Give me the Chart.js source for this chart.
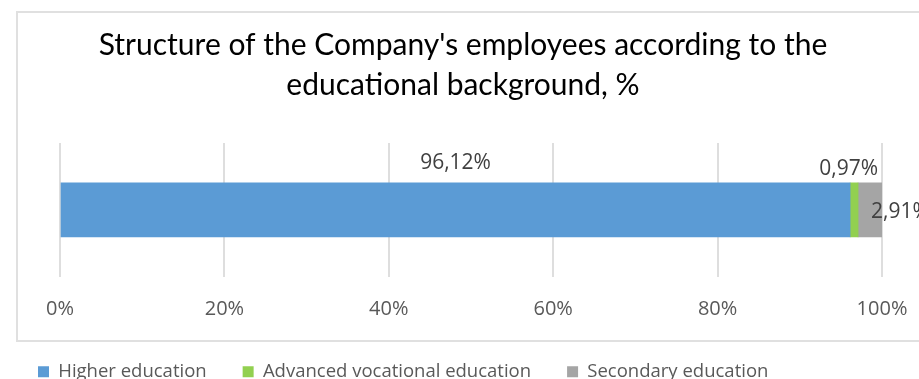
<!DOCTYPE html>
<html>
<head>
<meta charset="utf-8">
<title>Education structure</title>
<script src="https://cdn.jsdelivr.net/npm/chart.js@4.4.1/dist/chart.umd.min.js"></script>
<style>
  html, body { margin: 0; padding: 0; background: #fff; overflow: hidden; }
  #wrap { position: relative; width: 919px; height: 379px; overflow: hidden; }
  #frame { position: absolute; left: 16px; top: 11px; width: 920px; height: 327px; border: 2px solid #e0e0e0; box-sizing: content-box; }
  #barChart { position: absolute; left: 0; top: 0; }
</style>
</head>
<body>
<div id="wrap">
  <div id="frame"></div>
  <canvas id="barChart" width="930" height="391"></canvas>
</div>
<script>
// one row, three education groups stacked to 100%
var categories = ["Employees"];
var seriesNames = ["Higher education", "Advanced vocational education", "Secondary education"];
var higherEdu = [96.12];
var vocationalEdu = [0.97];
var secondaryEdu = [2.91];
var xTicks = [0, 20, 40, 60, 80, 100];

var seriesColors = ["#5b9bd5", "#92d050", "#a5a5a5"];

function pct(v) {
  return v.toFixed(2).replace(".", ",") + "%";
}

// label placement per series: "top" = above the bar, "mid" = bar middle;
// x taken from the segment center or its right end
var labelSpots = [
  { x: "center", y: "top", align: "center", dx: 0, dy: -20 },
  { x: "end", y: "top", align: "right", dx: 20, dy: -14 },
  { x: "center", y: "mid", align: "left", dx: 1, dy: 2 }
];

var valueLabels = {
  id: "valueLabels",
  afterDatasetsDraw: function(chart) {
    var ctx = chart.ctx;
    ctx.save();
    ctx.font = "21px 'Open Sans'";
    ctx.fillStyle = "#404040";
    ctx.textBaseline = "middle";
    chart.data.datasets.forEach(function(ds, i) {
      var meta = chart.getDatasetMeta(i);
      meta.data.forEach(function(bar, j) {
        var spot = labelSpots[i];
        var left = Math.min(bar.base, bar.x), right = Math.max(bar.base, bar.x);
        var x = spot.x == "center" ? (left + right) / 2 : right;
        var y = spot.y == "mid" ? bar.y : bar.y - bar.height / 2;
        ctx.textAlign = spot.align;
        ctx.fillText(pct(ds.data[j]), x + spot.dx, y + spot.dy);
      });
    });
    ctx.restore();
  }
};

// the legend is drawn a little soft
var softLegend = {
  id: "softLegend",
  beforeDraw: function(chart) {
    var lg = chart.legend;
    if (!lg || lg._soft) return;
    var draw = lg.draw;
    lg.draw = function() {
      var ctx = this.ctx;
      ctx.save();
      ctx.filter = "blur(0.7px)";
      draw.apply(this, arguments);
      ctx.restore();
    };
    lg._soft = true;
  }
};

var data = {
  labels: categories,
  datasets: [
    { label: seriesNames[0], data: higherEdu, backgroundColor: seriesColors[0] },
    { label: seriesNames[1], data: vocationalEdu, backgroundColor: seriesColors[1] },
    { label: seriesNames[2], data: secondaryEdu, backgroundColor: seriesColors[2] }
  ]
};

var chart = new Chart(document.getElementById("barChart"), {
  type: "bar",
  data: data,
  plugins: [valueLabels, softLegend],
  options: {
    indexAxis: "y",
    responsive: false,
    animation: false,
    layout: { padding: { left: 2, right: 6, top: 0, bottom: 0 } },
    datasets: { bar: { barThickness: 54, borderWidth: 0 } },
    scales: {
      x: {
        stacked: true,
        min: 0,
        max: 100,
        afterBuildTicks: function(axis) {
          axis.ticks = xTicks.map(function(v) { return { value: v }; });
        },
        afterFit: function(axis) {
          axis.height = 49.75;
          axis.paddingLeft = 0;
          axis.paddingRight = 48;
        },
        grid: { color: "#dedede", lineWidth: 2, drawTicks: false },
        border: { display: false },
        ticks: {
          padding: 21,
          color: "#595959",
          font: { family: "'Open Sans'", size: 20 },
          callback: function(v) { return v + "%"; }
        }
      },
      y: {
        stacked: true,
        afterFit: function(axis) { axis.width = 58; },
        grid: { display: false },
        border: { display: false },
        ticks: { display: false }
      }
    },
    plugins: {
      title: {
        display: true,
        text: ["Structure of the Company's employees according to the", "educational background, %"],
        color: "#000",
        font: { family: "Lato", size: 30, weight: "normal", lineHeight: 1.333 },
        padding: { top: 25, bottom: 38 }
      },
      legend: {
        position: "bottom",
        align: "start",
        labels: {
          boxWidth: 11,
          boxHeight: 11,
          padding: 36,
          color: "#595959",
          font: { family: "'Open Sans'", size: 18.5 }
        }
      },
      tooltip: { enabled: false }
    }
  }
});
</script>
</body>
</html>
